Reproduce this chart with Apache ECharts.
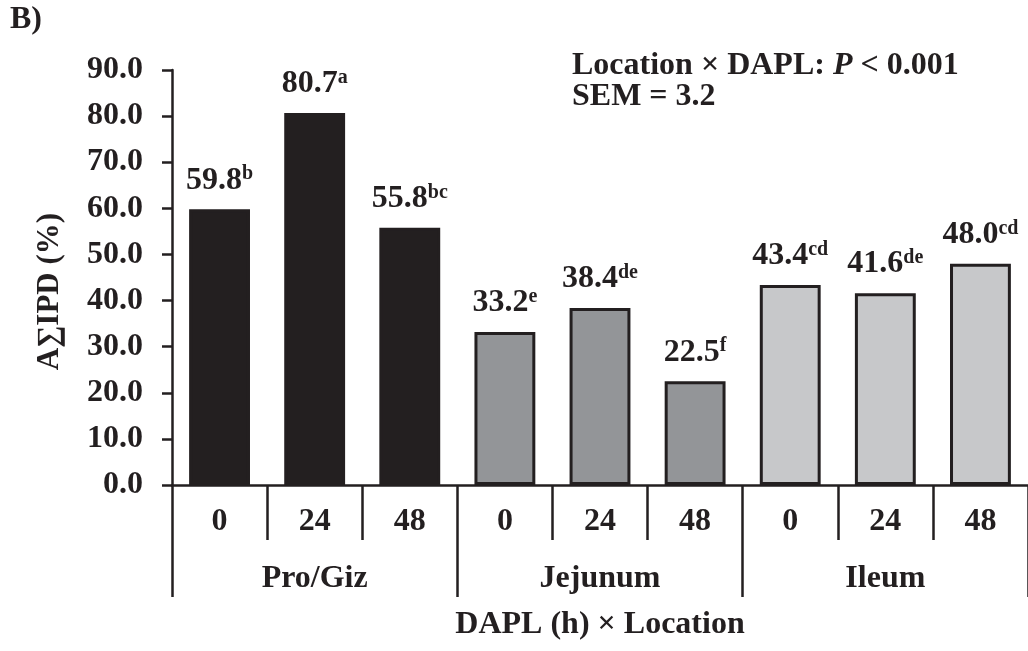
<!DOCTYPE html>
<html>
<head>
<meta charset="utf-8">
<script src="https://cdn.jsdelivr.net/npm/echarts@6/dist/echarts.min.js"></script>
<style>
  html, body { margin: 0; padding: 0; background: #ffffff; }
  #chart { width: 1028px; height: 651px; }
</style>
</head>
<body>
<div id="chart"></div>
<script>
// DAPL time points within each gut location
const hours = ['0', '24', '48', '0', '24', '48', '0', '24', '48'];
const locations = ['Pro/Giz', 'Jejunum', 'Ileum'];
// Mean AΣIPD (%) per DAPL × location cell
const values = [59.8, 80.7, 55.8, 33.2, 38.4, 22.5, 43.4, 41.6, 48.0];
// Mean separation letters
const letters = ['b', 'a', 'bc', 'e', 'de', 'f', 'cd', 'de', 'cd'];
const yTicks = [0, 10, 20, 30, 40, 50, 60, 70, 80, 90];

const INK = '#231f20';
const FONT = '"Liberation Serif", "Times New Roman", serif';
const groupFill = ['#231f20', '#939598', '#c7c8ca'];

const chart = echarts.init(document.getElementById('chart'), null, { renderer: 'canvas' });

const option = {
  backgroundColor: '#ffffff',
  animation: false,
  textStyle: { fontFamily: FONT, color: INK, fontWeight: 'bold' },
  grid: { left: 172, right: -8, top: 70, bottom: 166, containLabel: false },
  graphic: [
    {
      type: 'text', left: 10, top: 4,
      style: { text: 'B)', font: 'bold 32px ' + FONT, fill: INK }
    },
    {
      type: 'text', left: 572, top: 50,
      style: {
        text: '{b|Location × DAPL: }{i|P}{b| < 0.001}\n{b|SEM = 3.2}',
        fill: INK,
        rich: {
          b: { fontFamily: FONT, fontWeight: 'bold', fontSize: 32, lineHeight: 31, fill: INK },
          i: { fontFamily: FONT, fontWeight: 'bold', fontStyle: 'italic', fontSize: 32, lineHeight: 31, fill: INK }
        }
      }
    }
  ],
  xAxis: [
    {
      type: 'category',
      data: hours,
      position: 'bottom',
      axisLine: { show: true, lineStyle: { color: INK, width: 2.5 } },
      axisTick: { show: true, interval: 0, length: 55, lineStyle: { color: INK, width: 2.5 } },
      axisLabel: {
        interval: 0, margin: 21, color: INK,
        fontFamily: FONT, fontWeight: 'bold', fontSize: 32, lineHeight: 32
      },
      splitLine: { show: false }
    },
    {
      type: 'category',
      data: locations,
      position: 'bottom',
      offset: 0,
      axisLine: { show: false },
      axisTick: { show: true, interval: 0, length: 112, lineStyle: { color: INK, width: 2.5 } },
      axisLabel: {
        interval: 0, margin: 78, color: INK,
        fontFamily: FONT, fontWeight: 'bold', fontSize: 32, lineHeight: 32
      },
      name: 'DAPL (h) × Location',
      nameLocation: 'middle',
      nameGap: 124,
      nameTextStyle: { color: INK, fontFamily: FONT, fontWeight: 'bold', fontSize: 32, lineHeight: 32 },
      splitLine: { show: false }
    }
  ],
  yAxis: {
    type: 'value',
    min: yTicks[0],
    max: yTicks[yTicks.length - 1],
    interval: yTicks[1] - yTicks[0],
    axisLine: { show: true, lineStyle: { color: INK, width: 2.5 } },
    axisTick: { show: true, inside: false, length: 10, lineStyle: { color: INK, width: 2.5 } },
    axisLabel: {
      margin: 29, color: INK,
      fontFamily: FONT, fontWeight: 'bold', fontSize: 32, lineHeight: 32,
      formatter: v => v.toFixed(1)
    },
    splitLine: { show: false },
    name: 'A∑IPD (%)',
    nameLocation: 'middle',
    nameGap: 106,
    nameTextStyle: {
      color: INK, fontFamily: FONT, fontWeight: 'bold', fontSize: 31, lineHeight: 32,
      padding: [0, 28, 0, 0]
    }
  },
  series: [
    {
      type: 'bar',
      xAxisIndex: 0,
      data: values,
      barCategoryGap: '36%',
      itemStyle: {
        color: p => groupFill[Math.floor(p.dataIndex / 3)],
        borderColor: INK,
        borderWidth: 3
      },
      label: {
        show: true,
        position: 'top',
        distance: 13,
        formatter: p => '{v|' + values[p.dataIndex].toFixed(1) + '}{s|' + letters[p.dataIndex] + '}',
        rich: {
          v: { fontFamily: FONT, fontWeight: 'bold', fontSize: 32, lineHeight: 32, color: INK },
          s: { fontFamily: FONT, fontWeight: 'bold', fontSize: 20, lineHeight: 20, color: INK, verticalAlign: 'top' }
        }
      }
    }
  ]
};

chart.setOption(option);
</script>
</body>
</html>
